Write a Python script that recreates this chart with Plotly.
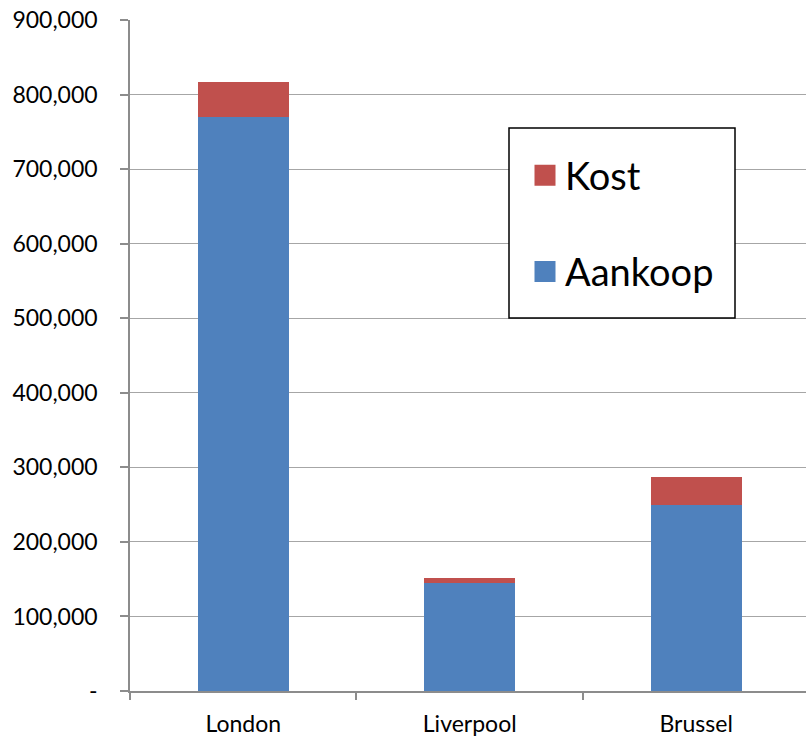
import plotly.graph_objects as go

# Data
cities = ["London", "Liverpool", "Brussel"]
aankoop = [770000, 145000, 250000]
kost = [47000, 6500, 36500]

y_tickvals = [0, 100000, 200000, 300000, 400000, 500000, 600000, 700000, 800000, 900000]
y_ticktext = ["-", "100,000", "200,000", "300,000", "400,000", "500,000",
              "600,000", "700,000", "800,000", "900,000"]

BLUE = "#4F81BD"
RED = "#C0504D"
FONT = "Lato, Carlito, Calibri, sans-serif"

# plot area in pixels (used to place the legend box)
L, R, T, B = 130, 0, 20, 46
W, H = 806, 737
PW, PH = W - L - R, H - T - B


def px_x(p):
    return (p - L) / PW


def px_y(p):
    return (H - B - p) / PH


fig = go.Figure()
fig.add_trace(go.Bar(x=cities, y=aankoop, name="Aankoop", marker_color=BLUE,
                     marker_line_width=0, showlegend=False))
fig.add_trace(go.Bar(x=cities, y=kost, name="Kost", marker_color=RED,
                     marker_line_width=0, showlegend=False))

# legend entries with large square swatches
for name, col, grp, rank in [("Kost", RED, "k", 1), ("Aankoop", BLUE, "a", 2)]:
    fig.add_trace(go.Scatter(
        x=[None], y=[None], mode="markers", name=name,
        marker=dict(symbol="square", size=16, color=col,
                    line=dict(color=col, width=5)),
        legendgroup=grp, legendrank=rank, showlegend=True,
    ))

fig.update_layout(
    width=W, height=H,
    margin=dict(l=L, r=R, t=T, b=B),
    barmode="stack",
    bargap=0.598,
    plot_bgcolor="white",
    paper_bgcolor="white",
    font=dict(family=FONT, size=23, color="black"),
    showlegend=True,
    legend=dict(
        x=px_x(525), y=px_y(144),
        xanchor="left", yanchor="top",
        traceorder="grouped",
        tracegroupgap=44,
        itemsizing="trace",
        font=dict(size=38, family=FONT),
        borderwidth=0,
        bgcolor="rgba(0,0,0,0)",
    ),
    shapes=[dict(
        type="rect", xref="paper", yref="paper",
        x0=px_x(509), x1=px_x(735), y0=px_y(318), y1=px_y(128),
        line=dict(color="black", width=1.5), fillcolor="white", layer="above",
    )],
)

fig.update_yaxes(
    range=[0, 900000],
    tickvals=y_tickvals, ticktext=y_ticktext,
    showgrid=True, gridcolor="#a6a6a6", gridwidth=1.3,
    showline=True, linecolor="#8c8c8c", linewidth=1.5,
    ticks="outside", ticklen=8, tickcolor="#8c8c8c", tickwidth=1.5,
    ticklabelstandoff=18,
    zeroline=False,
    tickfont=dict(size=23),
)
fig.update_xaxes(
    range=[-0.5, 2.485],
    showline=True, linecolor="#8c8c8c", linewidth=1.5,
    ticks="outside", ticklen=7, tickcolor="#8c8c8c", tickwidth=1.5,
    tickson="boundaries",
    ticklabelstandoff=12,
    tickfont=dict(size=23),
)

fig.write_html("out.html")
